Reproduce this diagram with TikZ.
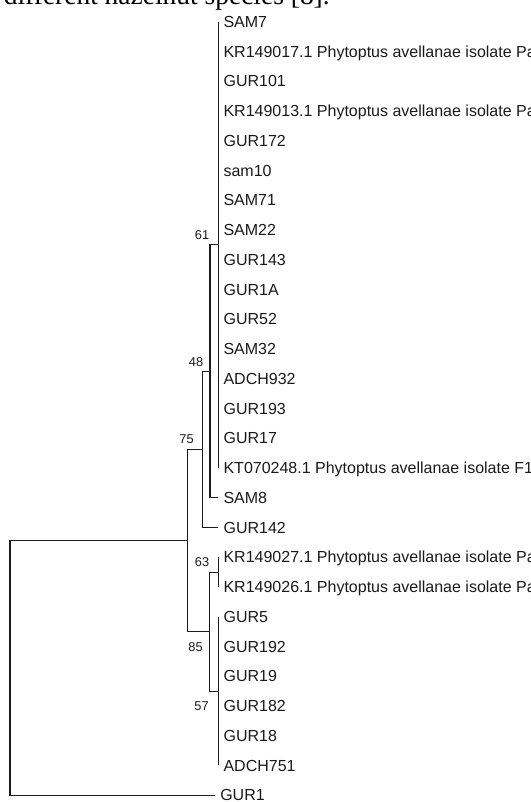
\documentclass[tikz,border=0pt]{standalone}
\usepackage{fontspec}
\setmainfont{Liberation Serif}
\newfontfamily\treefont{Liberation Sans}
\usetikzlibrary{positioning, calc}
\definecolor{treeink}{HTML}{1A1A1A}

\tikzset{
  branch/.style={draw=treeink, line width=0.9pt},
  leaf/.style={anchor=west, inner xsep=3.75pt, inner ysep=0pt, text height=8.6pt, text depth=0pt,
               font=\treefont\fontsize{12}{14}\selectfont, text=treeink},
  boot/.style={anchor=base east, inner sep=0pt, font=\treefont\fontsize{9.6}{11}\selectfont, text=treeink}
}

\begin{document}
\begin{tikzpicture}[x=0.75pt, y=-0.75pt]
  \useasboundingbox (0,0) rectangle (531,802);
  \clip (0,0) rectangle (531,802);

  % caption line, cut off at the top
  \node[anchor=base east, inner sep=0pt, font=\fontsize{20.6}{24}\selectfont] (caption) at (330,5)
    {different hazelnut species [8].};

  % taxa, top to bottom
  \foreach \name/\txt [count=\i from 0] in {
      sam7/SAM7, kr17/KR149017.1 Phytoptus avellanae isolate Pa, gur101/GUR101,
      kr13/KR149013.1 Phytoptus avellanae isolate Pa, gur172/GUR172, sam10/sam10,
      sam71/SAM71, sam22/SAM22, gur143/GUR143, gur1a/GUR1A, gur52/GUR52, sam32/SAM32,
      adch932/ADCH932, gur193/GUR193, gur17/GUR17, kt48/KT070248.1 Phytoptus avellanae isolate F1,
      sam8/SAM8, gur142/GUR142, kr27/KR149027.1 Phytoptus avellanae isolate Pa,
      kr26/KR149026.1 Phytoptus avellanae isolate Pa, gur5/GUR5, gur192/GUR192, gur19/GUR19,
      gur182/GUR182, gur18/GUR18, adch751/ADCH751}
    \node[leaf] (\name) at (218.3, 21.7+29.75*\i) {\txt};
  \node[leaf] (gur1) at (215, 795.2) {GUR1};

  % inner nodes
  \coordinate (p) at (218.3,244.8);
  \coordinate (n61) at (210,371.25);
  \coordinate (n48) at (202.3,449.35);
  \coordinate (n63) at (218.3,572.1);
  \coordinate (n57) at (218.3,691.1);
  \coordinate (n85) at (209.3,631.6);
  \coordinate (n75) at (187.5,540.5);
  \coordinate (root) at (10,667.85);

  % branches
  \draw[branch] (sam7.west) -- (kt48.west);
  \draw[branch] (p) -| (n61) |- (sam8.west);
  \draw[branch] (n61) -| (n48) |- (gur142.west);
  \draw[branch] (n48) -| (n75) |- (n85);
  \draw[branch] (kr27.west) -- (kr26.west);
  \draw[branch] (gur5.west) -- (adch751.west);
  \draw[branch] (n63) -| (n85) |- (n57);
  \draw[branch] (n75) -| (root) |- (gur1.west);

  % bootstrap values
  \node[boot] (b61) at (209.5,239) {61};
  \node[boot] (b48) at (203.5,366) {48};
  \node[boot] (b75) at (194,443) {75};
  \node[boot] (b63) at (209.5,566) {63};
  \node[boot] (b85) at (203,651) {85};
  \node[boot] (b57) at (209,710.5) {57};
\end{tikzpicture}
\end{document}
